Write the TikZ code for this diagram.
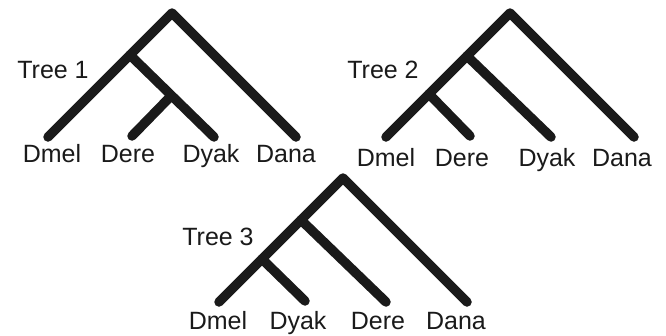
\documentclass[tikz,border=0pt]{standalone}
\usepackage{fontspec}
\setmainfont{Liberation Sans}
\definecolor{ink}{HTML}{1A1A1A}
\begin{document}
\begin{tikzpicture}[x=1pt,y=-1pt,
  branch/.style={draw=ink,line width=9.5pt,line cap=round,line join=round},
  taxon/.style={text=ink,font=\fontsize{25}{28}\selectfont,inner sep=0pt,anchor=base},
  treename/.style={taxon}]
\useasboundingbox (0,0) rectangle (666,335);

% ---- Tree 1: (Dmel,(Dere,Dyak),Dana)
\coordinate (r1) at (172,13);
\coordinate (a1) at (130,55);
\coordinate (b1) at (171,96);
\coordinate (l1a) at (48,137);
\coordinate (l1b) at (132,136);
\coordinate (l1c) at (214,137);
\coordinate (l1d) at (296,137);
\draw[branch] (l1a) -- (r1) -- (l1d);
\draw[branch] (a1) -- (l1c);
\draw[branch] (b1) -- (l1b);
\node[treename] (t1) at (53,78) {Tree 1};
\node[taxon] (n1a) at (52,162) {Dmel};
\node[taxon] (n1b) at (128,162) {Dere};
\node[taxon] (n1c) at (211,162) {Dyak};
\node[taxon] (n1d) at (286,162) {Dana};

% ---- Tree 2: (((Dmel,Dere),Dyak),Dana)
\coordinate (r2) at (510,13);
\coordinate (a2) at (467,56);
\coordinate (b2) at (429,94);
\coordinate (l2a) at (386,137);
\coordinate (l2b) at (470,136);
\coordinate (l2c) at (551,137);
\coordinate (l2d) at (634,137);
\draw[branch] (l2a) -- (r2) -- (l2d);
\draw[branch] (a2) -- (l2c);
\draw[branch] (b2) -- (l2b);
\node[treename] (t2) at (383,78) {Tree 2};
\node[taxon] (n2a) at (386,166) {Dmel};
\node[taxon] (n2b) at (462,166) {Dere};
\node[taxon] (n2c) at (547,166) {Dyak};
\node[taxon] (n2d) at (622,166) {Dana};

% ---- Tree 3: (((Dmel,Dyak),Dere),Dana)
\coordinate (r3) at (343,178);
\coordinate (a3) at (301,220);
\coordinate (b3) at (262,259);
\coordinate (l3a) at (219,302);
\coordinate (l3b) at (305,301);
\coordinate (l3c) at (386,302);
\coordinate (l3d) at (467,302);
\draw[branch] (l3a) -- (r3) -- (l3d);
\draw[branch] (a3) -- (l3c);
\draw[branch] (b3) -- (l3b);
\node[treename] (t3) at (218,245) {Tree 3};
\node[taxon] (n3a) at (218,329) {Dmel};
\node[taxon] (n3b) at (298,329) {Dyak};
\node[taxon] (n3c) at (378,329) {Dere};
\node[taxon] (n3d) at (456,329) {Dana};
\end{tikzpicture}
\end{document}
